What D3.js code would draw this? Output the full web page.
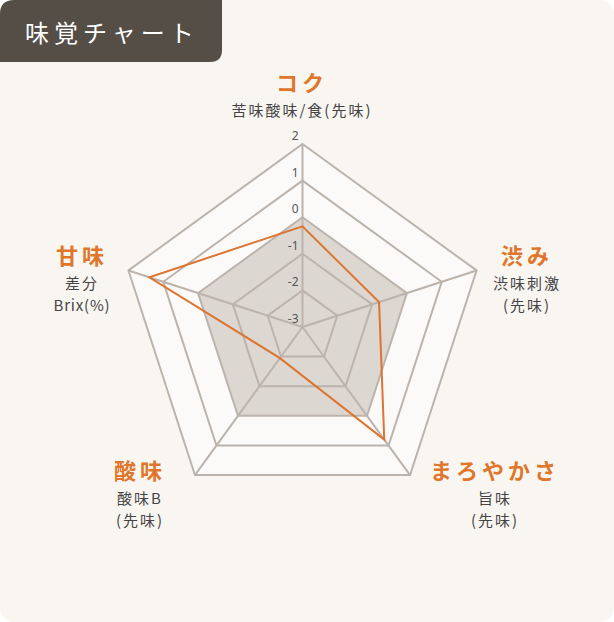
<!DOCTYPE html>
<html>
<head>
<meta charset="utf-8">
<script src="https://cdn.jsdelivr.net/npm/d3@7"></script>
<style>
  body { margin: 0; background: #ffffff; }
  svg { display: block; font-family: "Noto Sans CJK JP", "Noto Sans", sans-serif; }
</style>
</head>
<body>
<div id="chart-area"></div>
<script>
// data
var axes = ["コク", "渋み", "まろやかさ", "酸味", "甘味"];
var subLabels = [["苦味酸味/食(先味)"], ["渋味刺激", "(先味)"], ["旨味", "(先味)"], ["酸味B", "(先味)"], ["差分", "Brix(%)"]];
var values = [-0.25, -0.8, 0.8, -1.95, 1.4];
var ticks = [-3, -2, -1, 0, 1, 2];

var width = 614;
var height = 622;
var cx = 302.5, cy = 327, R = 183;

var svg = d3.select("#chart-area").append("svg")
	.attr("width", width)
	.attr("height", height);

// card background
svg.append("rect")
	.attr("width", width)
	.attr("height", height)
	.attr("rx", 14)
	.attr("fill", "#f9f6f2");

// title tab
svg.append("path")
	.attr("d", "M0,14 Q0,0 14,0 L222,0 L222,50 Q222,62 210,62 L0,62 Z")
	.attr("fill", "#554e47");
svg.append("text")
	.attr("x", 25)
	.attr("y", 42)
	.attr("font-size", "24px")
	.attr("letter-spacing", "5px")
	.attr("fill", "#ffffff")
	.text("味覚チャート");

var r = d3.scaleLinear()
	.domain([-3, 2])
	.range([0, R]);

var angle = d3.scalePoint()
	.domain(axes)
	.range([0, 2 * Math.PI * (axes.length - 1) / axes.length]);

function pt(name, v) {
	var a = angle(name);
	return [cx + r(v) * Math.sin(a), cy - r(v) * Math.cos(a)];
}

var g = svg.append("g");

// outer area and shaded area up to 0
g.append("polygon")
	.attr("points", axes.map(d => pt(d, 2)).join(" "))
	.attr("fill", "#fcfaf8");
g.append("polygon")
	.attr("points", axes.map(d => pt(d, 0)).join(" "))
	.attr("fill", "#ddd7d1");

// rings
g.selectAll(".ring")
	.data(ticks.slice(1))
	.enter()
	.append("polygon")
		.attr("class", "ring")
		.attr("points", t => axes.map(d => pt(d, t)).join(" "))
		.attr("fill", "none")
		.attr("stroke", "#bbb3ac")
		.attr("stroke-width", 2);

// spokes
g.selectAll(".spoke")
	.data(axes)
	.enter()
	.append("line")
		.attr("class", "spoke")
		.attr("x1", cx)
		.attr("y1", cy)
		.attr("x2", d => pt(d, 2)[0])
		.attr("y2", d => pt(d, 2)[1])
		.attr("stroke", "#bbb3ac")
		.attr("stroke-width", 2);

// tick labels
g.selectAll(".tick")
	.data(ticks)
	.enter()
	.append("text")
		.attr("class", "tick")
		.attr("x", cx - 4)
		.attr("y", t => cy - r(t) - 4)
		.attr("text-anchor", "end")
		.attr("font-size", "12px")
		.attr("fill", "#555")
		.attr("font-family", "'Noto Sans', sans-serif")
		.text(t => t);

// data line
g.append("polygon")
	.attr("points", axes.map((d, i) => pt(d, values[i])).join(" "))
	.attr("fill", "none")
	.attr("stroke", "#dd7430")
	.attr("stroke-width", 2)
	.attr("stroke-linejoin", "miter");

// labels
var labelPos = [[302, 82], [527, 255], [495, 470], [140, 470], [82, 255]];
axes.forEach((d, i) => {
	var lbl = svg.append("g")
		.attr("transform", "translate(" + labelPos[i][0] + "," + labelPos[i][1] + ")");
	lbl.append("text")
		.attr("text-anchor", "middle")
		.attr("y", 9)
		.attr("font-size", "22px")
		.attr("font-weight", "bold")
		.attr("letter-spacing", "4px")
		.attr("fill", "#e0762b")
		.text(d);
	subLabels[i].forEach((s, j) => {
		lbl.append("text")
			.attr("text-anchor", "middle")
			.attr("y", 34 + j * 22)
			.attr("font-size", "15px")
			.attr("letter-spacing", /^[\x00-\x7f]+$/.test(s) ? "0.8px" : "2px")
			.attr("fill", "#444")
			.text(s);
	});
});
</script>
</body>
</html>
